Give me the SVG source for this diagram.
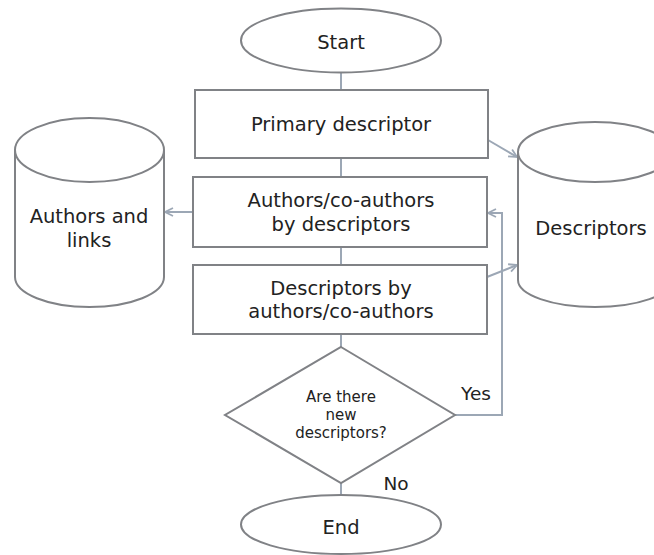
<svg xmlns="http://www.w3.org/2000/svg" width="654" height="555" viewBox="0 0 654 555">
<defs>
<style>
.shape{fill:#ffffff;stroke:#808286;stroke-width:2}
.conn{fill:none;stroke:#9ca7b5;stroke-width:2}
.t{font-family:"DejaVu Sans","Verdana",sans-serif;font-size:19.5px;fill:#222222;text-anchor:middle}
.s{font-size:15px}
</style>
<marker id="arr" viewBox="0 0 10 10" refX="9" refY="5" markerWidth="10" markerHeight="10" markerUnits="userSpaceOnUse" orient="auto">
<path d="M1,1 L9,5 L1,9" fill="none" stroke="#9ca7b5" stroke-width="1.8"/>
</marker>
</defs>
<rect width="654" height="555" fill="#ffffff"/>
<g id="connectors">
<line class="conn" x1="341" y1="73" x2="341" y2="90"/>
<line class="conn" x1="341" y1="158" x2="341" y2="177"/>
<line class="conn" x1="341" y1="247" x2="341" y2="265"/>
<line class="conn" x1="341" y1="334" x2="341" y2="347"/>
<line class="conn" x1="341" y1="483" x2="341" y2="495"/>
<line class="conn" x1="193" y1="212" x2="165" y2="212" marker-end="url(#arr)"/>
<line class="conn" x1="488" y1="140" x2="517" y2="157" marker-end="url(#arr)"/>
<line class="conn" x1="487" y1="277" x2="517" y2="265" marker-end="url(#arr)"/>
<polyline class="conn" points="455,415 502,415 502,213 488,213" marker-end="url(#arr)"/>
</g>
<g id="start">
<ellipse class="shape" cx="341" cy="40.5" rx="100" ry="32"/>
<text class="t" x="341" y="49">Start</text>
</g>
<g id="primary">
<rect class="shape" x="195" y="90" width="293" height="68"/>
<text class="t" x="341" y="131">Primary descriptor</text>
</g>
<g id="authors-by-descriptors">
<rect class="shape" x="193" y="177" width="294" height="70"/>
<text class="t" x="341" y="207">Authors/co-authors</text>
<text class="t" x="341" y="231">by descriptors</text>
</g>
<g id="descriptors-by-authors">
<rect class="shape" x="193" y="265" width="294" height="69"/>
<text class="t" x="341" y="295">Descriptors by</text>
<text class="t" x="341" y="318">authors/co-authors</text>
</g>
<g id="decision">
<polygon class="shape" points="341,347 455,415 341,483 225,415"/>
<text class="t s" x="341" y="402">Are there</text>
<text class="t s" x="341" y="420">new</text>
<text class="t s" x="341" y="438">descriptors?</text>
</g>
<g id="end">
<ellipse class="shape" cx="341" cy="524.5" rx="100" ry="29.5"/>
<text class="t" x="341" y="534">End</text>
</g>
<g id="authors-db">
<path class="shape" d="M15,150 V277 A74.5,30 0 0,0 164,277 V150"/>
<ellipse class="shape" cx="89.5" cy="150" rx="74.5" ry="32"/>
<text class="t" x="89" y="223">Authors and</text>
<text class="t" x="89" y="247">links</text>
</g>
<g id="descriptors-db">
<path class="shape" d="M518,152 V280 A77,27 0 0,0 672,280 V152"/>
<ellipse class="shape" cx="595" cy="152" rx="77" ry="30"/>
<text class="t" x="591" y="235">Descriptors</text>
</g>
<g id="labels">
<text class="t" x="476" y="400" style="font-size:18.5px">Yes</text>
<text class="t" x="396" y="490" style="font-size:18.5px">No</text>
</g>
</svg>
